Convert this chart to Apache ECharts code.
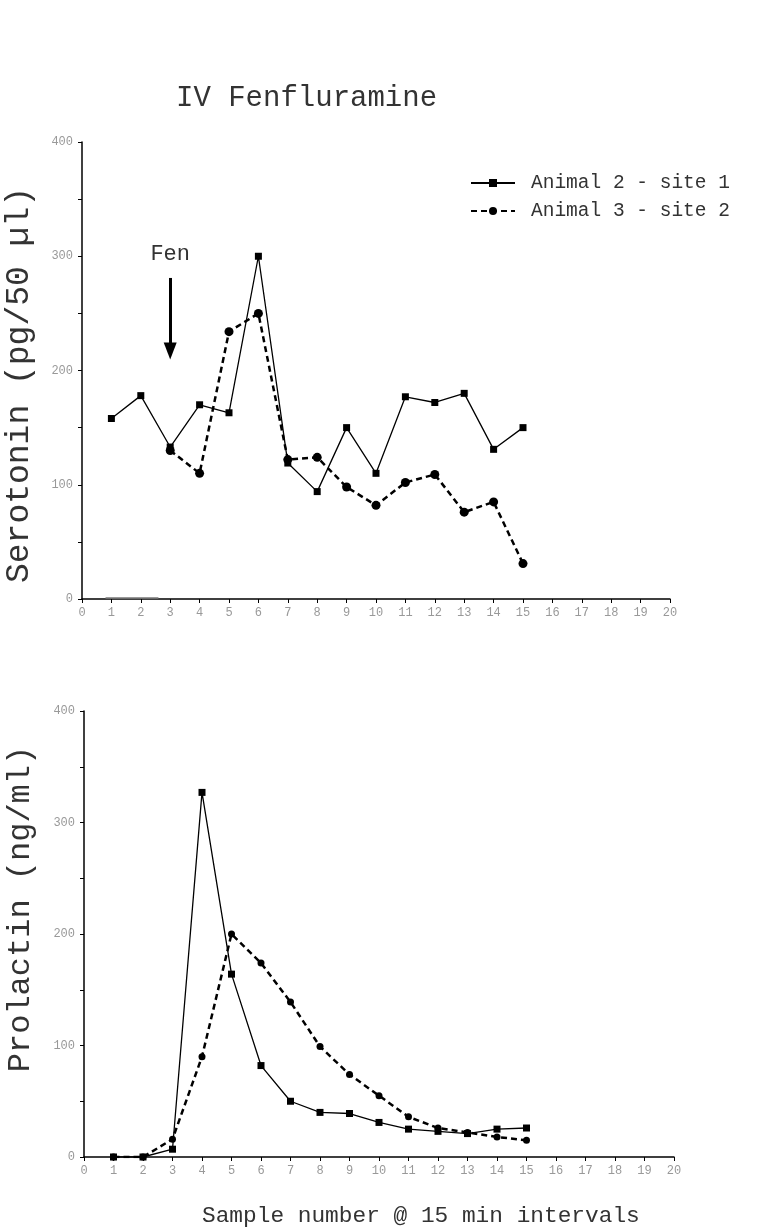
<!DOCTYPE html>
<html>
<head>
<meta charset="utf-8">
<script src="https://cdn.jsdelivr.net/npm/echarts@6/dist/echarts.min.js"></script>
<style>
html,body{margin:0;padding:0;background:#fff;}
#chart{width:780px;height:1229px;}
</style>
</head>
<body>
<div id="chart"></div>
<script>
// ---- data ----
var samples = [1, 2, 3, 4, 5, 6, 7, 8, 9, 10, 11, 12, 13, 14, 15];
var serotoninA2 = [158, 178, 133, 170, 163, 300, 119, 94, 150, 110, 177, 172, 180, 131, 150];
var serotoninA3 = [null, null, 130, 110, 234, 250, 122, 124, 98, 82, 102, 109, 76, 85, 31];
var prolactinA2 = [0, 0, 7, 327, 164, 82, 50, 40, 39, 31, 25, 23, 21, 25, 26];
var prolactinA3 = [0, 0, 16, 90, 200, 174, 139, 99, 74, 55, 36, 26, 22, 18, 15];
var baselineStub = [[0.8, 1], [2.6, 1]];
var fenArrow = { x: 3, from: 281, to: 217, labelY: 302 };
var seriesNames = ['Animal 2 - site 1', 'Animal 3 - site 2'];
var xTicks = { min: 0, max: 20, interval: 1 };
var yTicks = { min: 0, max: 400, interval: 50, labelEvery: 100 };

function pairs(xs, ys) {
  var out = [];
  for (var i = 0; i < xs.length; i++) {
    if (ys[i] !== null && ys[i] !== undefined) out.push([xs[i], ys[i]]);
  }
  return out;
}

var MONO = "'Liberation Mono', 'Courier New', 'DejaVu Sans Mono', monospace";
var TXT = '#333';

function xAxisCfg(gi) {
  return {
    type: 'value', gridIndex: gi, min: xTicks.min, max: xTicks.max, interval: xTicks.interval,
    axisLine: { show: true, lineStyle: { color: '#000', width: 1.5 } },
    axisTick: { show: true, length: 4, lineStyle: { color: '#000', width: 1 } },
    axisLabel: { fontFamily: MONO, fontSize: 12, color: '#999', margin: 8 },
    splitLine: { show: false }
  };
}
function yAxisCfg(gi) {
  return {
    type: 'value', gridIndex: gi, min: yTicks.min, max: yTicks.max, interval: yTicks.interval,
    axisLine: { show: true, lineStyle: { color: '#000', width: 1.5 } },
    axisTick: { show: true, length: 4, lineStyle: { color: '#000', width: 1 } },
    axisLabel: {
      fontFamily: MONO, fontSize: 12, color: '#999', margin: 9,
      formatter: function (v) { return v % yTicks.labelEvery === 0 ? String(v) : ''; }
    },
    splitLine: { show: false }
  };
}

var solidStyle = { color: '#000', width: 1.3 };
var dashStyle = { color: '#000', width: 2.5, type: [6, 4] };

var chart = echarts.init(document.getElementById('chart'), null, { renderer: 'canvas' });
chart.setOption({
  animation: false,
  backgroundColor: '#fff',
  title: [{
    text: 'IV Fenfluramine', left: 171, top: 79,
    textStyle: { fontFamily: MONO, fontSize: 29, fontWeight: 'normal', color: TXT }
  }, {
    text: 'Sample number @ 15 min intervals', left: 197, top: 1199,
    textStyle: { fontFamily: MONO, fontSize: 22.8, fontWeight: 'normal', color: TXT }
  }],
  legend: {
    data: seriesNames, orient: 'vertical', left: 465, top: 168,
    itemWidth: 44, itemHeight: 10, itemGap: 8,
    textStyle: { fontFamily: MONO, fontSize: 19.5, color: TXT, padding: [0, 0, 0, 11] }
  },
  grid: [
    { left: 82, right: 110, top: 142, height: 457 },
    { left: 84, right: 106, top: 711, height: 446 }
  ],
  xAxis: [xAxisCfg(0), xAxisCfg(1)],
  yAxis: [yAxisCfg(0), yAxisCfg(1)],
  graphic: [{
    type: 'text', x: 19, y: 385, rotation: Math.PI / 2,
    style: { text: 'Serotonin (pg/50 µl)', fontFamily: MONO, fontSize: 33, fill: TXT,
      textAlign: 'center', textVerticalAlign: 'middle' }
  }, {
    type: 'text', x: 21, y: 909, rotation: Math.PI / 2,
    style: { text: 'Prolactin (ng/ml)', fontFamily: MONO, fontSize: 32, fill: TXT,
      textAlign: 'center', textVerticalAlign: 'middle' }
  }],
  series: [{
    name: seriesNames[0], type: 'line', xAxisIndex: 0, yAxisIndex: 0,
    data: pairs(samples, serotoninA2),
    symbol: 'rect', symbolSize: 7, lineStyle: solidStyle, itemStyle: { color: '#000' },
    markLine: {
      silent: true, symbol: ['none', 'triangle'], symbolSize: [13, 17],
      lineStyle: { color: '#000', width: 3, type: 'solid' },
      label: { show: false },
      data: [[{ coord: [fenArrow.x, fenArrow.from] }, { coord: [fenArrow.x, fenArrow.to] }]]
    },
    markPoint: {
      silent: true, symbol: 'circle', symbolSize: 1,
      itemStyle: { color: 'rgba(0,0,0,0)' },
      label: { show: true, position: 'inside', formatter: 'Fen',
        fontFamily: MONO, fontSize: 22, color: TXT },
      data: [{ coord: [fenArrow.x, fenArrow.labelY] }]
    }
  }, {
    name: seriesNames[1], type: 'line', xAxisIndex: 0, yAxisIndex: 0,
    data: pairs(samples, serotoninA3),
    symbol: 'circle', symbolSize: 9, lineStyle: dashStyle, itemStyle: { color: '#000' }
  }, {
    name: 'stub', type: 'line', xAxisIndex: 0, yAxisIndex: 0, silent: true,
    data: baselineStub, symbol: 'none', lineStyle: { color: '#999', width: 1.5 }
  }, {
    name: seriesNames[0], type: 'line', xAxisIndex: 1, yAxisIndex: 1,
    data: pairs(samples, prolactinA2),
    symbol: 'rect', symbolSize: 7, lineStyle: solidStyle, itemStyle: { color: '#000' }
  }, {
    name: seriesNames[1], type: 'line', xAxisIndex: 1, yAxisIndex: 1,
    data: pairs(samples, prolactinA3),
    symbol: 'circle', symbolSize: 7, lineStyle: dashStyle, itemStyle: { color: '#000' }
  }]
});
</script>
</body>
</html>
